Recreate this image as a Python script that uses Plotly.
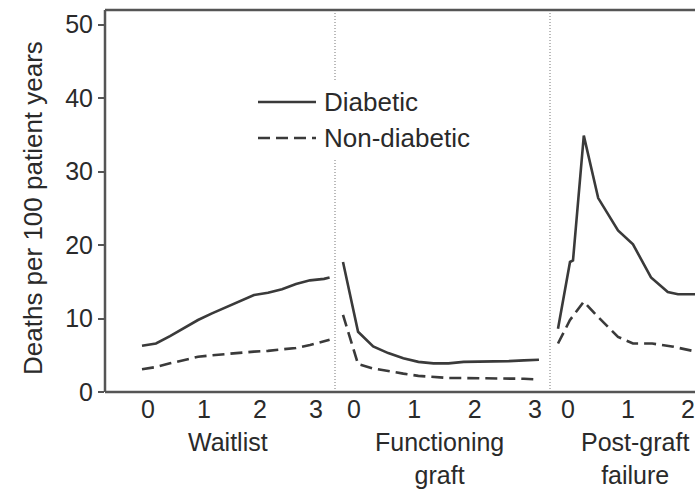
import plotly.graph_objects as go

# Years since start of each period
wait_t = [0, 0.25, 0.5, 0.75, 1.0, 1.25, 1.5, 1.75, 2.0, 2.25, 2.5, 2.75, 3.0, 3.25, 3.35]
wait_diab = [6.3, 6.6, 7.6, 8.7, 9.8, 10.7, 11.5, 12.4, 13.2, 13.5, 14.0, 14.7, 15.2, 15.4, 15.6]
wait_nondiab = [3.1, 3.4, 3.9, 4.4, 4.8, 5.0, 5.2, 5.4, 5.5, 5.6, 5.8, 6.0, 6.4, 6.9, 7.1]

func_t = [0, 0.25, 0.5, 0.75, 1.0, 1.25, 1.5, 1.75, 2.0, 2.25, 2.5, 2.75, 3.0, 3.25]
func_diab = [17.7, 8.2, 6.2, 5.3, 4.6, 4.1, 3.9, 3.9, 4.1, 4.1, 4.1, 4.2, 4.3, 4.4]
func_nondiab = [10.5, 3.8, 3.2, 2.8, 2.5, 2.2, 2.0, 1.9, 1.9, 1.9, 1.9, 1.9, 1.8, 1.7]

post_t_diab = [0, 0.2, 0.25, 0.43, 0.67, 1.0, 1.25, 1.55, 1.83, 2.0, 2.3]
post_diab = [8.6, 17.7, 17.9, 34.9, 26.4, 22.0, 20.1, 15.6, 13.6, 13.3, 13.3]
post_t_nondiab = [0, 0.2, 0.43, 0.67, 1.0, 1.25, 1.57, 1.9, 2.3]
post_nondiab = [6.6, 9.8, 12.3, 10.2, 7.5, 6.6, 6.6, 6.2, 5.5]

year_ticks = [0, 1, 2, 3]
y_ticks = [0, 10, 20, 30, 40, 50]
period_labels = ["Waitlist", "Functioning<br>graft", "Post-graft<br>failure"]
series_names = ["Diabetic", "Non-diabetic"]

W, H = 695, 495
ML, MR, MT, MB = 105, 0, 10, 103
PW, PH = W - ML - MR, H - MT - MB


def px(x):
    return (x - ML) / PW


def py(y):
    return (H - MB - y) / PH


d1, d2 = px(335), px(550)
LINE = "#3a3a3a"
FRAME = "#555555"
TXT = "#2a2a2a"
FONT = "Liberation Sans, Arial, sans-serif"
DASH = "12px,6px"
FS = 25

fig = go.Figure()
panels = [
    ("x", wait_t, wait_diab, wait_t, wait_nondiab),
    ("x2", func_t, func_diab, func_t, func_nondiab),
    ("x3", post_t_diab, post_diab, post_t_nondiab, post_nondiab),
]
for xa, td, yd, tn, yn in panels:
    fig.add_trace(go.Scatter(x=td, y=yd, xaxis=xa, yaxis="y", mode="lines",
                             name=series_names[0], showlegend=False,
                             line=dict(color=LINE, width=2.6)))
    fig.add_trace(go.Scatter(x=tn, y=yn, xaxis=xa, yaxis="y", mode="lines",
                             name=series_names[1], showlegend=False,
                             line=dict(color=LINE, width=2.6, dash=DASH)))

xcommon = dict(showline=False, showgrid=False, zeroline=False, ticks="",
               tickvals=year_ticks, ticktext=[str(v) for v in year_ticks],
               tickfont=dict(size=FS, color=TXT, family=FONT), anchor="y")

fig.update_layout(
    width=W, height=H,
    margin=dict(l=ML, r=MR, t=MT, b=MB),
    paper_bgcolor="white", plot_bgcolor="white",
    xaxis=dict(domain=[0, d1], range=[-(142 - 105) / 56, (335 - 142) / 56],
               ticklabelshift=6, **xcommon),
    xaxis2=dict(domain=[d1, d2], range=[-(343 - 335) / 60.3, (550 - 343) / 60.3],
                ticklabelshift=11, **xcommon),
    xaxis3=dict(domain=[d2, 1], range=[-(558 - 550) / 60, (695 - 558) / 60],
                ticklabelshift=10, **xcommon),
    yaxis=dict(range=[0, 52], tickvals=y_ticks, showgrid=False, zeroline=False,
               ticks="outside", ticklen=6, tickwidth=1.5, tickcolor=FRAME,
               showline=False,
               tickfont=dict(size=FS, color=TXT, family=FONT)),
    showlegend=False,
)

shapes = []
# period separators
for xs in (d1, d2):
    shapes.append(dict(type="line", xref="paper", yref="paper", x0=xs, x1=xs,
                       y0=0, y1=1, line=dict(color="#777777", width=1, dash="1px,2px")))
# white box behind the key
shapes.append(dict(type="rect", xref="paper", yref="paper",
                   x0=px(250), x1=px(480), y0=py(160), y1=py(82),
                   fillcolor="white", line=dict(width=0)))
# key samples
shapes.append(dict(type="line", xref="paper", yref="paper", x0=px(258), x1=px(316),
                   y0=py(102), y1=py(102), line=dict(color=LINE, width=2.6)))
shapes.append(dict(type="line", xref="paper", yref="paper", x0=px(258), x1=px(316),
                   y0=py(138), y1=py(138), line=dict(color=LINE, width=2.6, dash=DASH)))
# open frame: left, top and bottom edges
shapes.append(dict(type="line", xref="paper", yref="paper", x0=0, x1=0, y0=0, y1=1,
                   line=dict(color=FRAME, width=2.5)))
shapes.append(dict(type="line", xref="paper", yref="paper", x0=0, x1=1, y0=1, y1=1,
                   line=dict(color=FRAME, width=2.5)))
shapes.append(dict(type="line", xref="paper", yref="paper", x0=0, x1=1, y0=0, y1=0,
                   line=dict(color=FRAME, width=2.5)))
fig.update_layout(shapes=shapes)

ann = []
for name, yy in zip(series_names, (102, 138)):
    ann.append(dict(xref="paper", yref="paper", x=px(322), y=py(yy), text=name,
                    showarrow=False, xanchor="left", yanchor="middle",
                    font=dict(size=26, color=TXT, family=FONT)))
for text, xx in zip(period_labels, (228, 439, 635)):
    ann.append(dict(xref="paper", yref="paper", x=px(xx), y=py(426), text=text,
                    showarrow=False, xanchor="center", yanchor="top",
                    font=dict(size=FS, color=TXT, family=FONT)))
ann.append(dict(xref="paper", yref="paper", x=px(33), y=py(208),
                text="Deaths per 100 patient years", textangle=-90, showarrow=False,
                xanchor="center", yanchor="middle",
                font=dict(size=26, color=TXT, family=FONT)))
fig.update_layout(annotations=ann)

fig.write_html("out.html")
